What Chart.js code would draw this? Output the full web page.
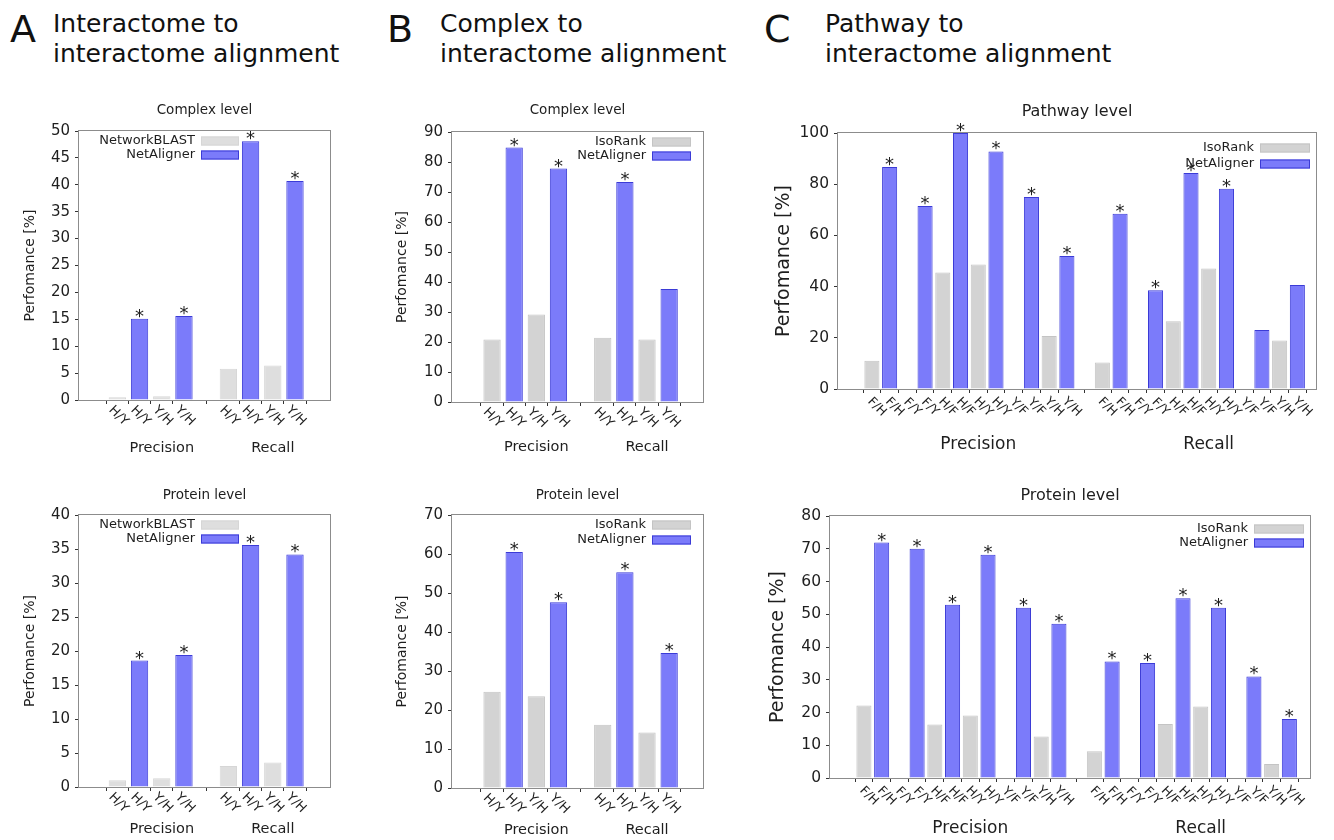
<!DOCTYPE html>
<html lang="en">
<head>
<meta charset="UTF-8">
<title>NetAligner performance</title>
<script src="https://cdn.jsdelivr.net/npm/chart.js"></script>
<style>
  body { margin: 0; background: #fff; font-family: 'DejaVu Sans', sans-serif; color: #111; }
  #fig { position: relative; width: 1334px; height: 840px; overflow: hidden; }
  .letter { position: absolute; font-size: 38px; line-height: 38px; }
  .head { position: absolute; font-size: 25px; line-height: 30px; white-space: nowrap; }
  canvas { position: absolute; }
</style>
</head>
<body>
<div id="fig">
  <div class="letter" style="left:10px;top:10px">A</div>
  <div class="head" style="left:53px;top:9px">Interactome to<br>interactome alignment</div>
  <div class="letter" style="left:387px;top:10px">B</div>
  <div class="head" style="left:440px;top:9px">Complex to<br>interactome alignment</div>
  <div class="letter" style="left:764px;top:10px">C</div>
  <div class="head" style="left:825px;top:9px">Pathway to<br>interactome alignment</div>
</div>

<script>
  // groups and comparisons on the x axis
  const groups = ['Precision', 'Recall'];
  const pairsAB = ['H/Y', 'Y/H'];
  const pairsC = ['F/H', 'F/Y', 'H/F', 'H/Y', 'Y/F', 'Y/H'];

  // A: interactome to interactome (Precision H/Y, Y/H, Recall H/Y, Y/H)
  const aComplexNetworkBLAST = [0.5, 0.7, 5.8, 6.4];
  const aComplexNetAligner   = [15.1, 15.6, 48.1, 40.7];
  const aComplexStar         = [true, true, true, true];
  const aProteinNetworkBLAST = [1.0, 1.3, 3.1, 3.6];
  const aProteinNetAligner   = [18.6, 19.4, 35.6, 34.2];
  const aProteinStar         = [true, true, true, true];

  // B: complex to interactome
  const bComplexIsoRank    = [20.8, 29.2, 21.4, 20.8];
  const bComplexNetAligner = [84.8, 77.8, 73.3, 37.7];
  const bComplexStar       = [true, true, true, false];
  const bProteinIsoRank    = [24.7, 23.5, 16.2, 14.2];
  const bProteinNetAligner = [60.5, 47.6, 55.3, 34.6];
  const bProteinStar       = [true, true, true, true];

  // C: pathway to interactome (F/H, F/Y, H/F, H/Y, Y/F, Y/H for each group)
  const cPathwayIsoRank    = [11.0, null, 45.5, 48.6, null, 20.7, 10.4, null, 26.5, 47.1, null, 18.9];
  const cPathwayNetAligner = [86.7, 71.5, 100, 92.8, 75.0, 52.0, 68.5, 38.6, 84.4, 78.2, 23.0, 40.6];
  const cPathwayStar       = [true, true, true, true, true, true, true, true, true, true, false, false];
  const cProteinIsoRank    = [22.1, null, 16.3, 19.1, null, 12.7, 8.2, null, 16.5, 21.8, null, 4.3];
  const cProteinNetAligner = [71.9, 70.0, 52.9, 68.2, 52.0, 47.1, 35.6, 35.1, 54.9, 52.0, 31.0, 18.0];
  const cProteinStar       = [true, true, true, true, true, true, true, true, true, true, true, true];

  const BLUE = '#7b7bfa', BLUE_EDGE = '#3b3bd6';
  const FRAME = '#8c8c8c', TEXT = '#1e1e1e';
  const FONT = '"DejaVu Sans"';

  function panel(spec) {
    const fig = document.getElementById('fig');
    const box = spec.box, area = spec.area;
    const cv = document.createElement('canvas');
    cv.width = box.w; cv.height = box.h;
    cv.style.left = box.left + 'px'; cv.style.top = box.top + 'px';
    fig.appendChild(cv);

    const n = spec.pairs.length;
    const per = 2 * n + 1;
    const slots = [];
    const grayData = [], blueData = [];
    spec.blue.forEach((v, i) => {
      const gi = Math.floor(i / n), pi = i % n;
      const x = gi * per + 2 * pi;
      slots.push({ value: x, label: spec.pairs[pi] });
      slots.push({ value: x + 1, label: spec.pairs[pi] });
      if (spec.gray[i] !== null) grayData.push({ x: x, y: spec.gray[i] });
      blueData.push({ x: x + 1, y: v });
    });

    const deco = {
      id: 'deco',
      afterDraw(chart) {
        const ctx = chart.ctx, a = chart.chartArea, xs = chart.scales.x;
        ctx.save();
        // frame
        ctx.strokeStyle = FRAME; ctx.lineWidth = 1;
        ctx.strokeRect(Math.round(a.left) - 0.5, Math.round(a.top) - 0.5,
                       Math.round(a.right - a.left) + 1, Math.round(a.bottom - a.top) + 1);
        ctx.fillStyle = TEXT;
        // title
        ctx.font = spec.titleSize + 'px ' + FONT;
        ctx.textAlign = 'center'; ctx.textBaseline = 'middle';
        ctx.fillText(spec.title, (a.left + a.right) / 2, a.top + spec.titleDy);
        // rotated tick labels
        ctx.font = spec.tickSize + 'px ' + FONT;
        slots.forEach(t => {
          const x = xs.getPixelForValue(t.value);
          ctx.save();
          ctx.translate(x + spec.lblDx, a.bottom + spec.lblDy);
          ctx.rotate(Math.PI / 4);
          ctx.fillText(t.label, 0, 0);
          ctx.restore();
        });
        // group labels
        ctx.font = spec.groupSize + 'px ' + FONT;
        groups.forEach((g, gi) => {
          const x0 = xs.getPixelForValue(gi * per), x1 = xs.getPixelForValue(gi * per + 2 * n - 1);
          const slot = (x1 - x0) / (2 * n - 1);
          ctx.fillText(g, (x0 + x1) / 2 + slot / 2, a.bottom + spec.groupDy);
        });
        // significance stars
        ctx.font = spec.starSize + 'px ' + FONT;
        ctx.textBaseline = 'alphabetic';
        chart.getDatasetMeta(1).data.forEach((bar, i) => {
          if (spec.stars[i]) ctx.fillText('*', bar.x, bar.y + 3);
        });
        // legend
        const lg = spec.legend;
        const bx = lg.side === 'left' ? a.left + lg.offset : a.right - lg.offset - lg.boxW;
        ctx.font = '13px ' + FONT;
        ctx.textAlign = 'right'; ctx.textBaseline = 'middle';
        [[spec.grayName, spec.grayColor, spec.grayEdge], ['NetAligner', BLUE, BLUE_EDGE]].forEach((r, k) => {
          const y = a.top + lg.rows[k];
          ctx.fillStyle = TEXT;
          ctx.fillText(r[0], bx - 6, y);
          ctx.fillStyle = r[1];
          ctx.fillRect(bx, y - 4.5, lg.boxW, 9);
          ctx.strokeStyle = r[2];
          ctx.strokeRect(bx + 0.5, y - 4, lg.boxW - 1, 8);
        });
        ctx.restore();
      }
    };

    new Chart(cv.getContext('2d'), {
      type: 'bar',
      data: {
        datasets: [
          { label: spec.grayName, data: grayData, backgroundColor: spec.grayColor, borderColor: spec.grayEdge,
            borderWidth: 1, grouped: false, barPercentage: spec.barPct, categoryPercentage: 1 },
          { label: 'NetAligner', data: blueData, backgroundColor: BLUE, borderColor: BLUE_EDGE,
            borderWidth: 1, grouped: false, barPercentage: spec.barPct, categoryPercentage: 1 }
        ]
      },
      options: {
        responsive: false, animation: false, devicePixelRatio: 1,
        layout: { padding: { left: spec.padL, top: area.top - box.top, right: box.left + box.w - area.right, bottom: 0 } },
        plugins: { legend: { display: false }, tooltip: { enabled: false }, title: { display: false } },
        scales: {
          x: {
            type: 'linear', min: spec.xMin, max: spec.xMax, bounds: 'data',
            grid: { display: true, drawOnChartArea: false, drawTicks: true, tickLength: 4, color: '#333' },
            border: { display: false },
            ticks: { display: false },
            afterBuildTicks: s => { s.ticks = slots.map(t => ({ value: t.value })); },
            afterFit: s => { s.height = box.top + box.h - area.bottom; }
          },
          y: {
            min: 0, max: spec.yMax,
            ticks: { stepSize: spec.yStep, color: TEXT, padding: 5, font: { family: 'DejaVu Sans', size: spec.yTickSize } },
            grid: { drawOnChartArea: false, tickLength: 4, color: '#333' },
            border: { display: false },
            title: { display: true, text: 'Perfomance [%]', color: TEXT, padding: 0,
                     font: { family: 'DejaVu Sans', size: spec.yTitleSize, lineHeight: 1.2 } },
            afterFit: s => { s.width = area.left - box.left - spec.padL; }
          }
        }
      },
      plugins: [deco]
    });
  }

  const smallText = { titleSize: 13.5, tickSize: 13, groupSize: 14.5, starSize: 18, yTickSize: 15, yTitleSize: 14,
                      lblDx: 1, lblDy: 16, barPct: 0.78 };
  const bigText = { titleSize: 16, tickSize: 12.5, groupSize: 17, starSize: 18, yTickSize: 15.5, yTitleSize: 19,
                    lblDx: 5, lblDy: 18, barPct: 0.85 };

  panel(Object.assign({}, smallText, {
    box: { left: 0, top: 90, w: 345, h: 380 }, area: { left: 79, right: 330, top: 131, bottom: 400 },
    padL: 21.6, xMin: -1.02, xMax: 8.87, yMax: 50, yStep: 5,
    title: 'Complex level', titleDy: -21, groupDy: 48,
    pairs: pairsAB, gray: aComplexNetworkBLAST, blue: aComplexNetAligner, stars: aComplexStar,
    grayName: 'NetworkBLAST', grayColor: '#dedede', grayEdge: '#d6d6d6',
    legend: { side: 'left', offset: 122, boxW: 38, rows: [10, 24] }
  }));
  panel(Object.assign({}, smallText, {
    box: { left: 0, top: 475, w: 345, h: 365 }, area: { left: 79, right: 330, top: 515, bottom: 787 },
    padL: 21.6, xMin: -1.02, xMax: 8.87, yMax: 40, yStep: 5,
    title: 'Protein level', titleDy: -20, groupDy: 42,
    pairs: pairsAB, gray: aProteinNetworkBLAST, blue: aProteinNetAligner, stars: aProteinStar,
    grayName: 'NetworkBLAST', grayColor: '#dedede', grayEdge: '#d6d6d6',
    legend: { side: 'left', offset: 122, boxW: 38, rows: [10, 24] }
  }));
  panel(Object.assign({}, smallText, {
    box: { left: 345, top: 90, w: 375, h: 380 }, area: { left: 452, right: 703, top: 132, bottom: 402 },
    padL: 48.6, xMin: -1.1, xMax: 8.82, yMax: 90, yStep: 10,
    title: 'Complex level', titleDy: -22, groupDy: 45,
    pairs: pairsAB, gray: bComplexIsoRank, blue: bComplexNetAligner, stars: bComplexStar,
    grayName: 'IsoRank', grayColor: '#d3d3d3', grayEdge: '#c4c4c4',
    legend: { side: 'right', offset: 12, boxW: 39, rows: [10, 24] }
  }));
  panel(Object.assign({}, smallText, {
    box: { left: 345, top: 475, w: 375, h: 365 }, area: { left: 452, right: 703, top: 515, bottom: 788 },
    padL: 48.6, xMin: -1.1, xMax: 8.82, yMax: 70, yStep: 10,
    title: 'Protein level', titleDy: -20, groupDy: 42,
    pairs: pairsAB, gray: bProteinIsoRank, blue: bProteinNetAligner, stars: bProteinStar,
    grayName: 'IsoRank', grayColor: '#d3d3d3', grayEdge: '#c4c4c4',
    legend: { side: 'right', offset: 12, boxW: 39, rows: [10, 25] }
  }));
  panel(Object.assign({}, bigText, {
    box: { left: 730, top: 90, w: 604, h: 380 }, area: { left: 838, right: 1316, top: 133, bottom: 389 },
    padL: 42.6, xMin: -1.35, xMax: 24.49, yMax: 100, yStep: 20,
    title: 'Pathway level', titleDy: -21, groupDy: 56,
    pairs: pairsC, gray: cPathwayIsoRank, blue: cPathwayNetAligner, stars: cPathwayStar,
    grayName: 'IsoRank', grayColor: '#d3d3d3', grayEdge: '#c4c4c4',
    legend: { side: 'right', offset: 6, boxW: 50, rows: [15, 31] }
  }));
  panel(Object.assign({}, bigText, {
    box: { left: 730, top: 475, w: 604, h: 365 }, area: { left: 830, right: 1310, top: 516, bottom: 778 },
    padL: 36.6, xMin: -1.35, xMax: 24.6, yMax: 80, yStep: 10,
    title: 'Protein level', titleDy: -20, groupDy: 51,
    pairs: pairsC, gray: cProteinIsoRank, blue: cProteinNetAligner, stars: cProteinStar,
    grayName: 'IsoRank', grayColor: '#d3d3d3', grayEdge: '#c4c4c4',
    legend: { side: 'right', offset: 6, boxW: 50, rows: [13, 27] }
  }));
</script>
</body>
</html>
